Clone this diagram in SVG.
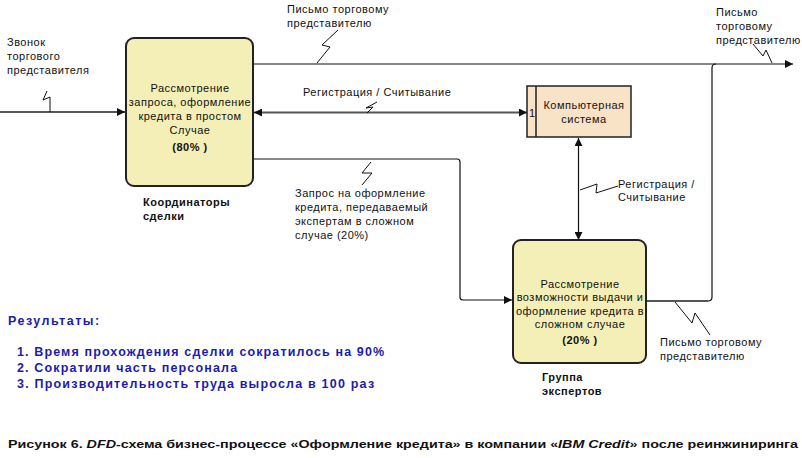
<svg xmlns="http://www.w3.org/2000/svg" width="802" height="458" viewBox="0 0 802 458">
<style>
text{font-family:"Liberation Sans",Arial,sans-serif;font-size:11px;fill:#111;letter-spacing:0.5px}
.c{text-anchor:middle}
.b{font-weight:bold}
.res{fill:#1c1ca8;font-weight:bold;font-size:12.5px;letter-spacing:0.9px}
.cap{letter-spacing:0}
.proc{fill:#f4efb6;stroke:#222;stroke-width:2}
.store{fill:#f8e3c6;stroke:#222;stroke-width:1.5}
.ln{fill:none;stroke:#111;stroke-width:1.2}
.lg{fill:none;stroke:#555;stroke-width:2}
.sq{fill:none;stroke:#111;stroke-width:1}
</style>
<defs>
<marker id="ah" viewBox="0 0 10 10" refX="10" refY="5" markerWidth="8" markerHeight="8" markerUnits="userSpaceOnUse" orient="auto">
<path d="M0,0 L10,5 L0,10 z" fill="#111"/>
</marker>
<marker id="as" viewBox="0 0 10 10" refX="0" refY="5" markerWidth="8" markerHeight="8" markerUnits="userSpaceOnUse" orient="auto">
<path d="M10,0 L0,5 L10,10 z" fill="#111"/>
</marker>
</defs>
<rect width="802" height="458" fill="#fff"/>
<g id="connectors">
<path class="lg" d="M0,112 H125" marker-end="url(#ah)"/>
<polyline class="sq" points="47,91 43,100 50,97 50,112"/>
<path class="ln" d="M253,64 H793" marker-end="url(#ah)"/>
<polyline class="sq" points="338,30 322,45 330,47 317,63"/>
<polyline class="sq" points="753,44 763,56 766,50 772,63"/>
<path class="lg" d="M254,112.5 H527" marker-start="url(#as)" marker-end="url(#ah)"/>
<polyline class="sq" points="377,102 366,108 373,107 367,113"/>
<path class="ln" d="M578.5,138 V240" marker-start="url(#as)" marker-end="url(#ah)"/>
<polyline class="sq" points="580,190 597,184 596,193 618,186"/>
<path class="ln" d="M253,159 H457 Q460,159 460,162 V297 Q460,300 463,300 H512" marker-end="url(#ah)"/>
<polyline class="sq" points="371,162 362,173 372,173 362,185"/>
<path class="lg" d="M646,301 H708"/>
<path class="ln" d="M708,301 Q712,301 712,297 V68 Q712,64 716,64"/>
<polyline class="sq" points="675,302 692,323 695,313 710,335"/>
</g>
<g id="node-coord">
<rect class="proc" x="126" y="38" width="127" height="148" rx="8"/>
<text class="c" x="190" y="92">Рассмотрение</text>
<text class="c" x="190" y="106">запроса, оформление</text>
<text class="c" x="190" y="120">кредита в простом</text>
<text class="c" x="190" y="134">Случае</text>
<text class="c b" x="190" y="151" font-size="12">(80% )</text>
<text class="b" x="143" y="206">Координаторы</text>
<text class="b" x="143" y="220">сделки</text>
</g>
<g id="store-comp">
<rect class="store" x="527" y="86" width="104" height="51"/>
<line x1="536" y1="86" x2="536" y2="137" stroke="#222" stroke-width="1.5"/>
<text x="529" y="117">1</text>
<text class="c" x="584" y="109">Компьютерная</text>
<text class="c" x="584" y="123">система</text>
</g>
<g id="node-experts">
<rect class="proc" x="513" y="240" width="133" height="123" rx="8"/>
<text class="c" x="580" y="288">Рассмотрение</text>
<text class="c" x="580" y="301">возможности выдачи и</text>
<text class="c" x="580" y="315">оформление кредита в</text>
<text class="c" x="580" y="328">сложном случае</text>
<text class="c b" x="580" y="344" font-size="12">(20% )</text>
<text class="b" x="542" y="381">Группа</text>
<text class="b" x="542" y="395">экспертов</text>
</g>
<g id="labels">
<text x="7" y="46">Звонок</text>
<text x="7" y="60">торгового</text>
<text x="7" y="74">представителя</text>
<text x="287" y="13">Письмо торговому</text>
<text x="287" y="27">представителю</text>
<text x="716" y="16">Письмо</text>
<text x="716" y="30">торговому</text>
<text x="716" y="44">представителю</text>
<text x="303" y="96">Регистрация / Считывание</text>
<text x="618" y="188">Регистрация /</text>
<text x="618" y="201">Считывание</text>
<text x="295" y="197">Запрос на оформление</text>
<text x="295" y="211">кредита, передаваемый</text>
<text x="295" y="225">экспертам в сложном</text>
<text x="295" y="239">случае (20%)</text>
<text x="660" y="346">Письмо торговому</text>
<text x="660" y="360">представителю</text>
</g>
<g id="results">
<text class="res" x="8" y="325" textLength="92">Результаты:</text>
<text class="res" x="17" y="356" textLength="368">1. Время прохождения сделки сократилось на 90%</text>
<text class="res" x="17" y="372" textLength="221">2. Сократили часть персонала</text>
<text class="res" x="17" y="388" textLength="358">3. Производительность труда выросла в 100 раз</text>
</g>
<text id="caption" class="cap" x="8" y="448" font-size="13" font-weight="bold" textLength="790" lengthAdjust="spacingAndGlyphs">Рисунок 6. <tspan font-style="italic">DFD</tspan>-схема бизнес-процессе «Оформление кредита» в компании «<tspan font-style="italic">IBM Credit</tspan>» после реинжиниринга</text>
</svg>
